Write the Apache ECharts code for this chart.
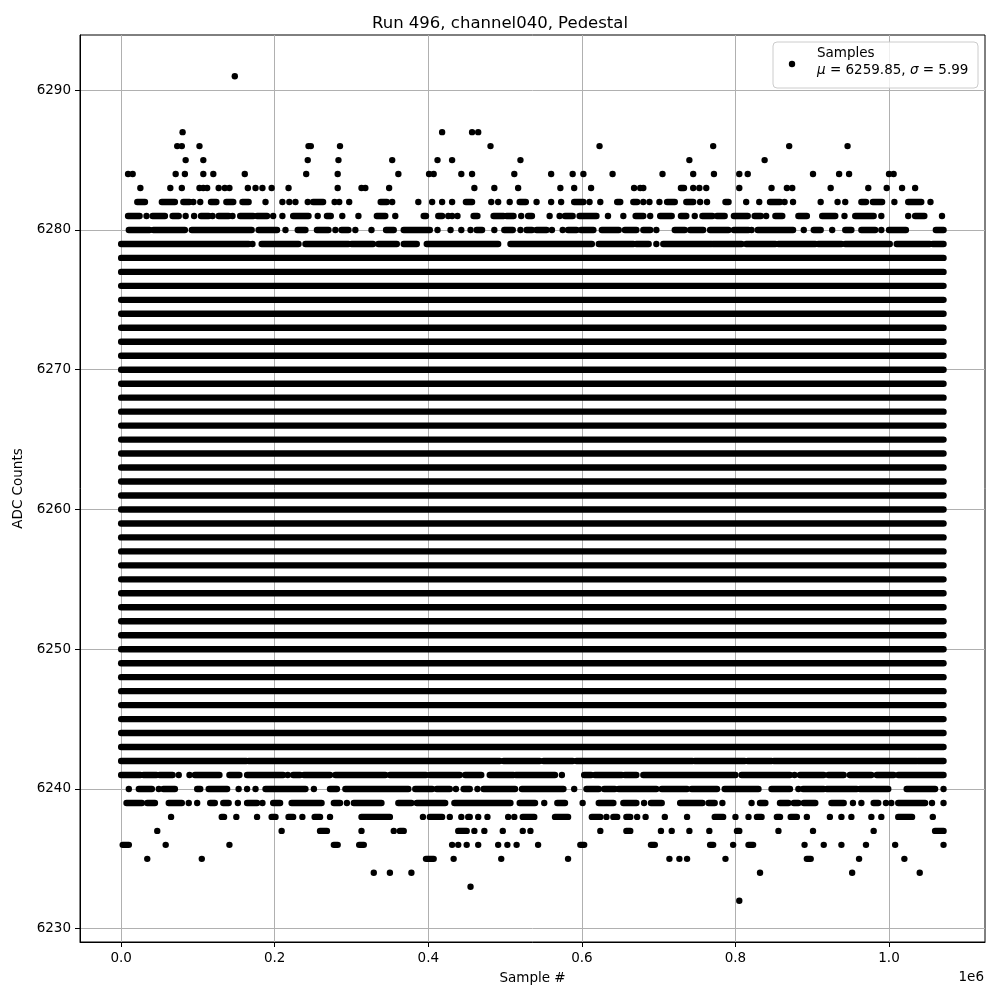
<!DOCTYPE html>
<html>
<head>
<meta charset="utf-8">
<script src="https://cdn.jsdelivr.net/npm/echarts@6/dist/echarts.min.js"></script>
<style>html,body{margin:0;padding:0;background:#fff}#c{width:1000px;height:1000px}</style>
</head>
<body>
<div id="c"></div>
<script>
// Values in thousands of samples; a number is a single sample, [a,b] a run of adjacent samples
const denseLevels = [6243,6244,6245,6246,6247,6248,6249,6250,6251,6252,6253,6254,6255,6256,6257,6258,6259,6260,6261,6262,6263,6264,6265,6266,6267,6268,6269,6270,6271,6272,6273,6274,6275,6276,6277,6278];
const denseRun = [0, 1071];

const lvl6291 = [148];
const lvl6287 = [80, 418, 457, 465];
const lvl6286 = [73, 79, 102, 244, 247, 285, 481, 623, 771, 870, 946];
const lvl6285 = [84, 107, 243, 283, 353, 412, 431, 520, 740, 838];
const lvl6284 = [9, 15, 71, 83, 107, 120, 161, 241, 282, 361, 401, 407, 443, 457, 512, 560, 588, 602, 640, 705, 745, 772, 805, 816, 901, 935, 948, 1000, 1006];
const lvl6283 = [25, 64, 79, 102, 107, 112, 127, 135, 141, 165, 175, 184, 196, 218, 282, 313, 318, 349, 460, 486, 517, 572, 590, 612, 668, 676, 680, [729,733], 745, 753, 762, 805, 847, 867, 874, 924, 973, 997, 1017, 1034];
const lvl6282 = [[21,31], [53,70], [81,89], 94, 103, [117,124], [137,146], [158,166], 188, 210, 219, 227, 243, [250,263], 278, 284, 297, [338,346], 353, 387, 405, 418, 431, [449,457], 482, 491, 506, [519,527], 541, 560, 573, [590,602], 610, 624, [646,650], [667,672], 680, 688, 701, [711,721], [736,745], 754, 763, [787,791], 814, 831, [845,858], 864, 875, 911, 933, 943, [964,970], [979,991], 1007, [1025,1042], 1054];
const lvl6281 = [[9,24], 33, [41,57], [67,75], 84, 95, [104,114], 119, [127,140], 145, [155,172], [177,190], 198, 210, [224,244], 256, [268,273], 288, 309, [333,344], 357, [394,397], [413,418], 426, 431, 438, [459,464], [485,498], [502,511], 521, [530,535], 558, 571, [578,588], [597,619], 634, 654, [670,680], 689, [702,717], [729,736], 747, [757,770], [776,786], [798,816], [825,833], 840, [852,861], [882,893], [913,930], 942, [956,980], 990, 1025, [1034,1046], 1069];
const lvl6280 = [[10,37], [42,83], [92,170], [179,203], 214, [230,240], [255,270], 279, [287,296], 305, 326, [345,355], [368,402], 412, 429, 443, 455, [463,470], 486, [499,510], 520, [528,535], [541,554], 561, 575, [582,593], [599,615], [626,648], [656,671], [680,689], 697, [721,734], [741,758], [767,791], [798,817], 821, [829,875], 889, [902,911], 926, [943,951], [964,982], 990, [1000,1022], [1061,1071]];
const lvl6279 = [[0,166], 171, [183,231], [240,296], [300,328], [335,359], [368,385], [398,491], [507,613], [622,667], [671,687], 697, [706,769], [771,808], [814,852], [856,904], [908,938], [943,1001], [1010,1053], [1057,1071]];

const lvl6242 = [[0,163], [166,493], [498,545], [550,588], [593,744], [747,812], [816,847], [850,1036], [1038,1071]];
const lvl6241 = [[0,25], [29,46], [50,67], 75, 89, [96,128], [141,154], [164,211], 217, [224,233], [238,272], [279,344], [350,397], [402,441], [448,469], [480,511], [514,565], 574, [603,612], [617,652], [656,671], [680,800], [808,871], 877, [884,915], [921,941], [949,977], [984,1006], [1012,1071]];
const lvl6240 = [10, [23,40], 49, [55,70], [99,103], [114,138], 153, 164, 175, [188,240], 251, [272,281], [292,374], [383,405], [411,428], 436, [446,454], 464, [472,513], [522,576], 590, [606,622], [629,643], [648,697], [704,737], [743,776], [786,830], [847,871], 882, [888,915], [919,958], [962,999], [1023,1060], 1071];
const lvl6239 = [[7,27], [34,44], [62,79], 88, 99, [116,122], [133,140], 152, [164,177], 184, [198,207], [222,261], [277,285], 294, [303,339], [361,378], [385,422], [434,507], [519,539], 551, [568,578], 601, [622,641], [654,671], 681, [690,704], [728,757], [765,773], 783, 821, [832,839], [858,869], [876,882], [889,904], [925,941], 953, 964, [980,986], 996, 1003, [1012,1047], 1056, 1071];
const lvl6238 = [65, [131,134], 150, 177, [196,201], [218,224], 236, [252,259], 272, [313,350], 393, [402,418], 428, 443, [452,454], 465, 477, 504, 512, [523,538], [565,582], [613,624], 632, [641,646], [658,663], 672, 683, 708, 737, [773,784], 800, 817, [828,834], [854,858], [872,880], 893, 923, 938, 951, 977, 990, [1012,1030], 1057];
const lvl6237 = [47, 209, [259,268], 313, 355, [363,368], [439,450], 460, 473, 497, 523, 533, 624, [658,663], 703, 717, 740, 766, [802,805], 856, 901, 980, [1060,1071]];
const lvl6236 = [[2,10], 58, 141, [277,282], [310,316], 431, 439, 450, 465, 491, 503, 515, 543, [598,603], [690,695], [767,771], 797, [817,823], 890, 915, 938, 970, 1008, 1071];
const lvl6235 = [34, 105, [397,407], 433, 495, 582, 714, 727, 737, 787, [893,898], 961, 1020];
const lvl6234 = [329, 350, 378, 832, 952, 1040];
const lvl6233 = [455];
const lvl6232 = [805];

const xTicks = [0, 200000, 400000, 600000, 800000, 1000000];
const yTicks = [6230, 6240, 6250, 6260, 6270, 6280, 6290];
const chartTitle = 'Run 496, channel040, Pedestal';
const legendLabel = 'Samples';
const muText = '6259.85';
const sigmaText = '5.99';

const sparse = [
  [6291, lvl6291], [6287, lvl6287], [6286, lvl6286], [6285, lvl6285], [6284, lvl6284],
  [6283, lvl6283], [6282, lvl6282], [6281, lvl6281], [6280, lvl6280], [6279, lvl6279],
  [6242, lvl6242], [6241, lvl6241], [6240, lvl6240], [6239, lvl6239], [6238, lvl6238],
  [6237, lvl6237], [6236, lvl6236], [6235, lvl6235], [6234, lvl6234], [6233, lvl6233], [6232, lvl6232]
];

const data = [];
denseLevels.forEach(l => data.push([denseRun[0] * 1000, denseRun[1] * 1000, l]));
sparse.forEach(([l, arr]) => {
  arr.forEach(v => {
    if (Array.isArray(v)) data.push([v[0] * 1000, v[1] * 1000, l]);
    else data.push([v * 1000, v * 1000, l]);
  });
});

const FONT = 'DejaVu Sans';
const DOT = 6.4;
const chart = echarts.init(document.getElementById('c'), null, {renderer: 'canvas'});
chart.setOption({
  animation: false,
  backgroundColor: '#fff',
  textStyle: {fontFamily: FONT},
  title: {
    text: chartTitle, left: 'center', top: 10,
    textStyle: {fontFamily: FONT, fontSize: 16.5, fontWeight: 'normal', color: '#000'}
  },
  grid: {left: 80, right: 15, top: 35, bottom: 58, show: true, borderColor: '#000', borderWidth: 1, containLabel: false},
  xAxis: {
    type: 'value', min: -53600, max: 1125000,
    name: 'Sample #', nameLocation: 'middle', nameGap: 29,
    nameTextStyle: {fontFamily: FONT, fontSize: 13.5, color: '#000'},
    axisLine: {show: true, onZero: false, lineStyle: {color: '#000', width: 1}},
    axisTick: {show: true, length: 5, customValues: xTicks, lineStyle: {color: '#000', width: 1}},
    axisLabel: {customValues: xTicks, formatter: v => (v / 1e6).toFixed(1), fontFamily: FONT, fontSize: 13.5, color: '#000', margin: 9},
    splitLine: {show: true, lineStyle: {color: '#b0b0b0', width: 1}}
  },
  yAxis: {
    type: 'value', min: 6229.05, max: 6293.95,
    name: 'ADC Counts', nameLocation: 'middle', nameGap: 53,
    nameTextStyle: {fontFamily: FONT, fontSize: 13.5, color: '#000'},
    axisLine: {show: true, onZero: false, lineStyle: {color: '#000', width: 1}},
    axisTick: {show: true, length: 5, customValues: yTicks, lineStyle: {color: '#000', width: 1}},
    axisLabel: {customValues: yTicks, formatter: v => String(Math.round(v)), fontFamily: FONT, fontSize: 13.5, color: '#000', margin: 9},
    splitLine: {show: true, lineStyle: {color: '#b0b0b0', width: 1}}
  },
  series: [{
    type: 'custom',
    name: legendLabel,
    encode: {x: [0, 1], y: 2},
    data: data,
    renderItem: function (params, api) {
      const s = api.coord([api.value(0), api.value(2)]);
      const e = api.coord([api.value(1), api.value(2)]);
      return {
        type: 'rect',
        shape: {x: s[0] - DOT / 2, y: s[1] - DOT / 2, width: (e[0] - s[0]) + DOT, height: DOT, r: DOT / 2},
        style: {fill: '#000'}
      };
    }
  }],
  graphic: [
    {type: 'text', right: 16, top: 970, style: {text: '1e6', font: '13.5px "DejaVu Sans"', fill: '#000'}},
    {type: 'rect', shape: {x: 773, y: 42, width: 205, height: 46, r: 4}, style: {fill: 'rgba(255,255,255,0.8)', stroke: '#cccccc', lineWidth: 1}, z: 100},
    {type: 'circle', shape: {cx: 792, cy: 64, r: DOT / 2}, style: {fill: '#000'}, z: 101},
    {type: 'text', x: 817, y: 45, z: 101, style: {
      text: legendLabel + '\n{i|μ} = ' + muText + ', {i|σ} = ' + sigmaText,
      font: '13.5px "DejaVu Sans"', fill: '#000', lineHeight: 17,
      rich: {i: {fontStyle: 'italic', fontFamily: FONT, fontSize: 13.5, fill: '#000', lineHeight: 17}}
    }}
  ]
});
</script>
</body>
</html>
